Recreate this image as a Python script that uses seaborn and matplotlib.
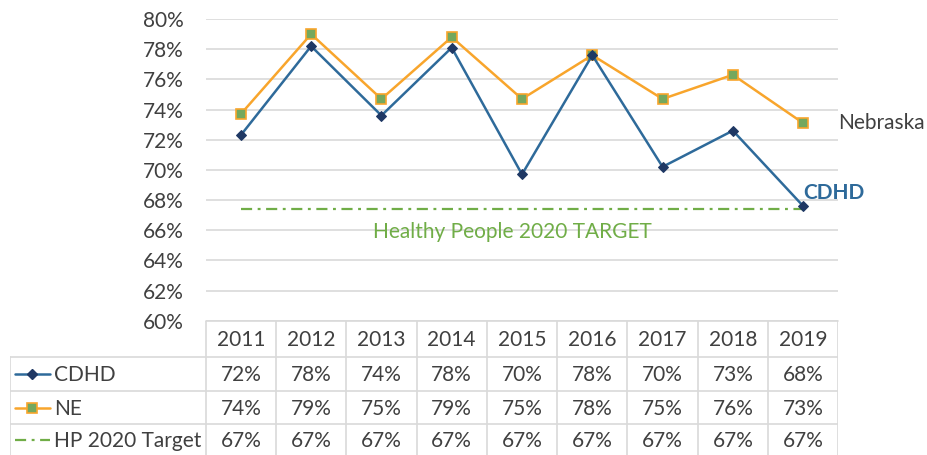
import numpy as np
import pandas as pd
import matplotlib
matplotlib.use("Agg")
import matplotlib.pyplot as plt
import seaborn as sns

# data
years = ["2011", "2012", "2013", "2014", "2015", "2016", "2017", "2018", "2019"]
cdhd = [0.723, 0.782, 0.736, 0.781, 0.697, 0.776, 0.702, 0.726, 0.676]
ne = [0.737, 0.790, 0.747, 0.788, 0.747, 0.776, 0.747, 0.763, 0.731]
hp_target = [0.674] * 9
series_names = ["CDHD", "NE", "HP 2020 Target"]

yticks = np.arange(0.60, 0.801, 0.02)

# styles
blue_line = "#2E6A9A"
navy = "#1F3864"
orange = "#F8A52C"
green_fill = "#74A85E"
green = "#70AD47"
grid_c = "#D9D9D9"
txt = "#404040"

sns.set_theme(style="white")
plt.rcParams["font.family"] = ["Lato", "DejaVu Sans"]

W, H = 928, 455
fig = plt.figure(figsize=(W / 100, H / 100), dpi=100)

# plot area in pixels
px_left, px_right, px_top, px_bottom = 205.7, 838.3, 19, 320.7
ax = fig.add_axes([px_left / W, 1 - px_bottom / H,
                   (px_right - px_left) / W, (px_bottom - px_top) / H])

pos = np.arange(len(years))
df = pd.DataFrame({"pos": pos, "CDHD": cdhd, "NE": ne, "HP": hp_target})

hp_dash = (0, (5, 2.5, 1.3, 2.5))
sns.lineplot(data=df, x="pos", y="HP", ax=ax, color=green, linewidth=1.6,
             linestyle=hp_dash)
sns.lineplot(data=df, x="pos", y="NE", ax=ax, color=orange, linewidth=1.8,
             marker="s", markersize=7, markerfacecolor=green_fill,
             markeredgecolor=orange, markeredgewidth=1.2)
sns.lineplot(data=df, x="pos", y="CDHD", ax=ax, color=blue_line, linewidth=1.8,
             marker="D", markersize=5.5, markerfacecolor=navy,
             markeredgecolor=navy)

ax.set_xlim(-0.5, len(years) - 0.5)
ax.set_ylim(0.60, 0.80)
ax.set_yticks(yticks)
ax.set_yticklabels([f"{t:.0%}" for t in yticks], color=txt, fontsize=15)
ax.tick_params(axis="y", length=0, pad=16)
ax.set_xticks([])
ax.set_xlabel("")
ax.set_ylabel("")
for t in yticks:
    ax.axhline(t, color=grid_c, linewidth=1.2, zorder=0)
for s in ax.spines.values():
    s.set_visible(False)

# series labels
ax.text(len(years) - 0.5, ne[-1], "Nebraska", color=txt, fontsize=15,
        ha="left", va="center", clip_on=False)
ax.text(len(years) - 1.0, 0.6845, "CDHD", color=blue_line, fontsize=15,
        fontweight="bold", ha="left", va="center", clip_on=False)
ax.text(3.87, 0.659, "Healthy People 2020 TARGET", color=green, fontsize=15,
        ha="center", va="center")

# data table below the plot
tab_left = 10
w0 = (px_left - tab_left) / ((px_right - px_left) / len(years))
tax = fig.add_axes([tab_left / W, 0, (px_right - tab_left) / W, (H - px_bottom) / H])
row_edges = [0, 36.6, 70.3, 103.6, H - px_bottom + 3]
tax.set_xlim(-0.5 - w0, len(years) - 0.5)
tax.set_ylim(H - px_bottom, 0)
tax.axis("off")

x_edges = [-0.5 - w0] + list(np.arange(len(years) + 1) - 0.5)
# horizontal lines
tax.plot([-0.5, len(years) - 0.5], [row_edges[0]] * 2, color=grid_c, lw=1.2, clip_on=False)
for y in row_edges[1:4]:
    tax.plot([x_edges[0], x_edges[-1]], [y, y], color=grid_c, lw=1.2)
# vertical lines
for x in x_edges[1:]:
    tax.plot([x, x], [row_edges[0], row_edges[-1]], color=grid_c, lw=1.2)
tax.plot([x_edges[0]] * 2, [row_edges[1], row_edges[-1]], color=grid_c, lw=1.2)

def mid(i):
    return (row_edges[i] + min(row_edges[i + 1], H - px_bottom)) / 2

for i, yr in enumerate(years):
    tax.text(i, mid(0) + 1, yr, ha="center", va="center", color=txt, fontsize=15)

rows = [cdhd, ne, hp_target]
for r, vals in enumerate(rows):
    for i, v in enumerate(vals):
        tax.text(i, mid(r + 1) + 1, f"{v:.0%}", ha="center", va="center",
                 color=txt, fontsize=15)

# legend keys in the first column
key_x0 = x_edges[0] + 5 / 70.3
key_x1 = x_edges[0] + 40 / 70.3
key_xm = (key_x0 + key_x1) / 2
tax.plot([key_x0, key_x1], [mid(1)] * 2, color=blue_line, lw=1.8)
tax.plot([key_xm], [mid(1)], marker="D", markersize=5, color=navy)
tax.plot([key_x0, key_x1], [mid(2)] * 2, color=orange, lw=1.8)
tax.plot([key_xm], [mid(2)], marker="s", markersize=7, markerfacecolor=green_fill,
         markeredgecolor=orange, markeredgewidth=1.2)
tax.plot([key_x0, key_x1], [mid(3)] * 2, color=green, lw=1.6, linestyle=hp_dash)
for r, name in enumerate(series_names):
    tax.text(key_x1 + 4 / 70.3, mid(r + 1) + 1, name, ha="left", va="center",
             color=txt, fontsize=15)

fig.savefig("out.png", dpi=100)
